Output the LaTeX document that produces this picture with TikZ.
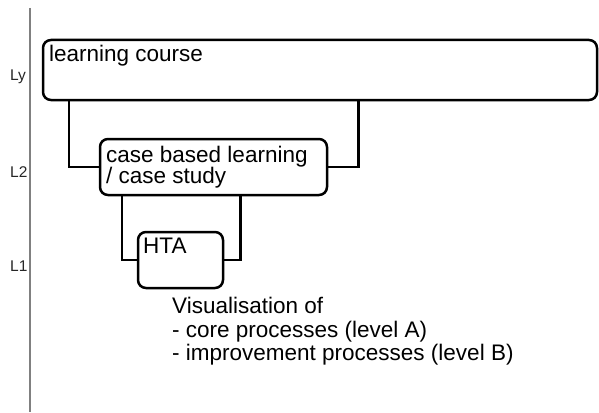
\documentclass[tikz,border=0pt]{standalone}
\usepackage{fontspec}
\setmainfont{Liberation Sans}
\begin{document}
\begin{tikzpicture}[x=1pt,y=-1pt,
  box/.style={draw=black,line width=2.5pt,rounded corners=8pt,inner sep=0pt,fill=white},
  link/.style={draw=black,line width=2.5pt},
  txt/.style={inner sep=0pt,anchor=base west,font=\fontsize{22.5}{22.5}\selectfont},
  lvl/.style={inner sep=0pt,anchor=base west,font=\fontsize{15.5}{15.5}\selectfont,text=black!85}]
\useasboundingbox (0,0) rectangle (599,412);
% level axis
\coordinate (axtop) at (30,8);
\coordinate (axbot) at (30,412);
\draw[line width=1.5pt,gray] (axtop) -- (axbot);
\node[lvl] (ly) at (10,80) {Ly};
\node[lvl] (l2) at (10,177) {L2};
\node[lvl] (l1) at (10,271) {L1};
% boxes
\node[box,minimum width=554pt,minimum height=60pt] (lc) at (320,70) {};
\node[box,minimum width=227pt,minimum height=56pt] (cb) at (213.5,167) {};
\node[box,minimum width=85pt,minimum height=56pt] (hta) at (180.5,260) {};
% connectors
\draw[link] ([xshift=27pt]lc.south west) |- (cb.west);
\draw[link] ([xshift=-240pt]lc.south east) |- (cb.east);
\draw[link] ([xshift=23pt]cb.south west) |- (hta.west);
\draw[link] ([xshift=-88pt]cb.south east) |- (hta.east);
% texts
\node[txt] (tlc) at (49,61) {learning course};
\node[txt] (tcb1) at (106,162) {case based learning};
\node[txt] (tcb2) at (106,183) {/ case study};
\node[txt] (thta) at (143,253) {HTA};
\node[txt] (v1) at (172,313) {Visualisation of};
\node[txt] (v2) at (172,337) {- core processes (level A)};
\node[txt] (v3) at (172,360) {- improvement processes (level B)};
\end{tikzpicture}
\end{document}
